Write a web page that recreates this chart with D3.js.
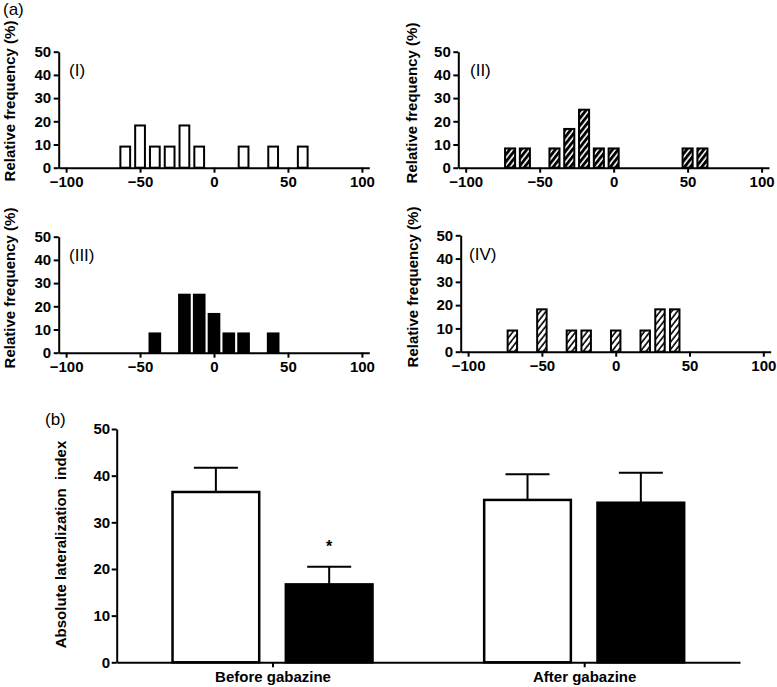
<!DOCTYPE html>
<html>
<head>
<meta charset="utf-8">
<script src="https://cdn.jsdelivr.net/npm/d3@7"></script>
<style>
  body { margin: 0; background: #fff; }
  svg { font-family: "Liberation Sans", Arial, sans-serif; }
  .axis path, .axis line { stroke: #000; stroke-width: 2; }
  .axis text { font-size: 15px; font-weight: bold; fill: #000; }
</style>
</head>
<body>
<svg class="chart"></svg>
<script>
// histogram data (bin centre, relative frequency %)
const binsI = [-60, -50, -40, -30, -20, -10, 20, 40, 60];
const freqI = [9.1, 18.2, 9.1, 9.1, 18.2, 9.1, 9.1, 9.1, 9.1];
const binsII = [-70, -60, -40, -30, -20, -10, 0, 50, 60];
const freqII = [8.3, 8.3, 8.3, 16.7, 25, 8.3, 8.3, 8.3, 8.3];
const binsIII = [-40, -20, -10, 0, 10, 20, 40];
const freqIII = [8.3, 25, 25, 16.7, 8.3, 8.3, 8.3];
const binsIV = [-70, -50, -30, -20, 0, 20, 30, 40];
const freqIV = [9.1, 18.2, 9.1, 9.1, 9.1, 9.1, 18.2, 18.2];
const histXTicks = [-100, -50, 0, 50, 100];
const histYTicks = [0, 10, 20, 30, 40, 50];

// bar chart (b)
const groups = ["Before gabazine", "After gabazine"];
const series = ["open", "filled"];
const openMeans = [36.5, 34.8];
const openErr = [5.2, 5.5];
const filledMeans = [16.7, 34.2];
const filledErr = [3.8, 6.4];
const filledMarks = ["*", ""];
const barYTicks = [0, 10, 20, 30, 40, 50];

const width = 777;
const height = 687;

const svg = d3.select(".chart").attr("width", width).attr("height", height);

// hatch patterns
const defs = svg.append("defs");
function hatch(id, bg, fg) {
  const p = defs.append("pattern")
    .attr("id", id)
    .attr("patternUnits", "userSpaceOnUse")
    .attr("width", 4.5)
    .attr("height", 4.5)
    .attr("patternTransform", "rotate(38)");
  p.append("rect").attr("width", 4.5).attr("height", 4.5).attr("fill", bg);
  p.append("line")
    .attr("x1", 1).attr("y1", 0).attr("x2", 1).attr("y2", 4.5)
    .attr("stroke", fg).attr("stroke-width", 1.6);
}
hatch("hatchBlack", "#000", "#fff");
hatch("hatchWhite", "#fff", "#000");

const panels = [
  { bins: binsI, freq: freqI, label: "(I)", x0: 58.7, x1: 369.3, y0: 167.7, y1: 51.7,
    fill: "#fff", barW: 6.6, labX: 69, labY: 76, titleX: 15, titleY: 101 },
  { bins: binsII, freq: freqII, label: "(II)", x0: 458.3, x1: 769, y0: 167.7, y1: 51.7,
    fill: "url(#hatchBlack)", barW: 6.8, labX: 470, labY: 76, titleX: 416.5, titleY: 103 },
  { bins: binsIII, freq: freqIII, label: "(III)", x0: 58.7, x1: 369.3, y0: 352.7, y1: 236.7,
    fill: "#000", barW: 7.2, labX: 69, labY: 260.5, titleX: 15, titleY: 288 },
  { bins: binsIV, freq: freqIV, label: "(IV)", x0: 460.7, x1: 770.7, y0: 351.7, y1: 235.3,
    fill: "url(#hatchWhite)", barW: 6.4, labX: 469, labY: 260, titleX: 418, titleY: 287 }
];

panels.forEach((p) => {
  const x = d3.scaleLinear().domain([-105, 105]).range([p.x0, p.x1]);
  const y = d3.scaleLinear().domain([0, 50]).range([p.y0, p.y1]);

  const data = p.bins.map((b, i) => ({ bin: b, value: p.freq[i] }));

  svg.append("g")
    .selectAll("rect")
    .data(data)
    .enter()
    .append("rect")
    .attr("x", (d) => x(d.bin - p.barW / 2))
    .attr("y", (d) => y(d.value))
    .attr("width", (d) => x(d.bin + p.barW / 2) - x(d.bin - p.barW / 2))
    .attr("height", (d) => y(0) - y(d.value))
    .attr("fill", p.fill)
    .attr("stroke", "#000")
    .attr("stroke-width", 2);

  svg.append("g")
    .attr("class", "axis")
    .attr("transform", `translate(0,${p.y0})`)
    .call(d3.axisBottom(x).tickValues(histXTicks).tickSize(5).tickSizeOuter(0).tickPadding(3.5));

  svg.append("g")
    .attr("class", "axis")
    .attr("transform", `translate(${p.x0},0)`)
    .call(d3.axisLeft(y).tickValues(histYTicks).tickSize(5).tickSizeOuter(0).tickPadding(2.5));

  svg.append("text")
    .attr("x", p.labX)
    .attr("y", p.labY)
    .attr("font-size", 17)
    .text(p.label);

  svg.append("text")
    .attr("transform", `translate(${p.titleX},${p.titleY}) rotate(-90)`)
    .attr("text-anchor", "middle")
    .attr("font-size", 15)
    .attr("font-weight", "bold")
    .text("Relative frequency (%)");
});

svg.append("text").attr("x", 3).attr("y", 15).attr("font-size", 17).text("(a)");
svg.append("text").attr("x", 45).attr("y", 425).attr("font-size", 17).text("(b)");

// panel (b)
const bx0 = 116.7, bx1 = 740, by0 = 662.3, by1 = 429;
const xGroup = d3.scalePoint().domain(groups).range([bx0, bx1]).padding(0.5);
const xSeries = d3.scaleBand().domain(series).range([-100, 100]).paddingInner(0.235);
const yBar = d3.scaleLinear().domain([0, 50]).range([by0, by1]);

const barData = [];
groups.forEach((g, i) => {
  barData.push({ group: g, s: "open", mean: openMeans[i], err: openErr[i], mark: "" });
  barData.push({ group: g, s: "filled", mean: filledMeans[i], err: filledErr[i], mark: filledMarks[i] });
});

const bars = svg.append("g");
const cx = (d) => xGroup(d.group) + xSeries(d.s) + xSeries.bandwidth() / 2;

// error bars (upper only)
bars.selectAll("line.stem")
  .data(barData)
  .enter()
  .append("line")
  .attr("x1", cx).attr("x2", cx)
  .attr("y1", (d) => yBar(d.mean))
  .attr("y2", (d) => yBar(d.mean + d.err))
  .attr("stroke", "#000").attr("stroke-width", 2);

bars.selectAll("line.cap")
  .data(barData)
  .enter()
  .append("line")
  .attr("x1", (d) => cx(d) - 22).attr("x2", (d) => cx(d) + 22)
  .attr("y1", (d) => yBar(d.mean + d.err))
  .attr("y2", (d) => yBar(d.mean + d.err))
  .attr("stroke", "#000").attr("stroke-width", 2);

bars.selectAll("rect")
  .data(barData)
  .enter()
  .append("rect")
  .attr("x", (d) => xGroup(d.group) + xSeries(d.s))
  .attr("y", (d) => yBar(d.mean))
  .attr("width", xSeries.bandwidth())
  .attr("height", (d) => yBar(0) - yBar(d.mean))
  .attr("fill", (d) => (d.s === "open" ? "#fff" : "#000"))
  .attr("stroke", "#000")
  .attr("stroke-width", 2.5);

bars.selectAll("text")
  .data(barData.filter((d) => d.mark))
  .enter()
  .append("text")
  .attr("x", cx)
  .attr("y", (d) => yBar(d.mean + d.err) - 15)
  .attr("text-anchor", "middle")
  .attr("font-size", 16)
  .attr("font-weight", "bold")
  .text((d) => d.mark);

svg.append("g")
  .attr("class", "axis")
  .attr("transform", `translate(0,${by0})`)
  .call(d3.axisBottom(xGroup).tickSize(5).tickSizeOuter(0).tickPadding(3.7));

svg.append("g")
  .attr("class", "axis")
  .attr("transform", `translate(${bx0},0)`)
  .call(d3.axisLeft(yBar).tickValues(barYTicks).tickSize(5).tickSizeOuter(0).tickPadding(1.5));

svg.append("text")
  .attr("transform", `translate(66,544.5) rotate(-90)`)
  .attr("text-anchor", "middle")
  .attr("font-size", 15)
  .attr("font-weight", "bold")
  .style("white-space", "pre")
  .text("Absolute lateralization  index");
</script>
</body>
</html>
